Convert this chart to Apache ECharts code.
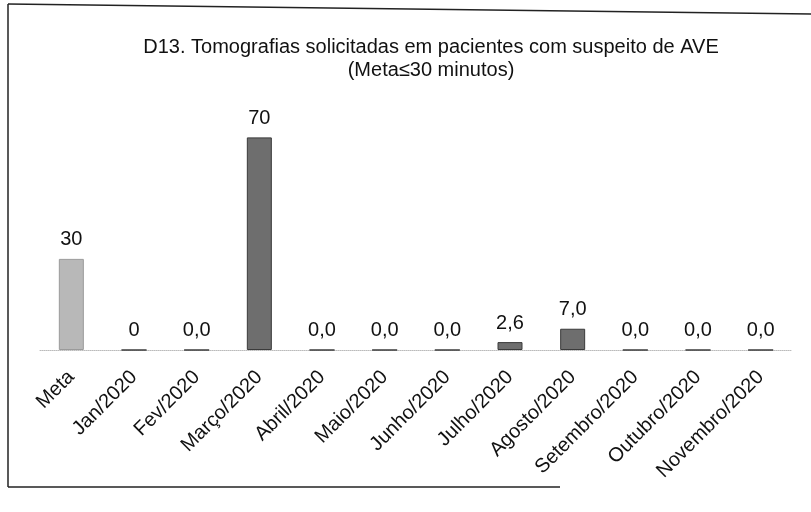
<!DOCTYPE html>
<html>
<head>
<meta charset="utf-8">
<script src="https://cdn.jsdelivr.net/npm/echarts@6/dist/echarts.min.js"></script>
<style>
  html, body { margin: 0; padding: 0; background: #fff; }
  #box { width: 811px; height: 512px; }
</style>
</head>
<body>
<div id="box"></div>
<script>
  const categories = ['Meta', 'Jan/2020', 'Fev/2020', 'Março/2020', 'Abril/2020', 'Maio/2020',
    'Junho/2020', 'Julho/2020', 'Agosto/2020', 'Setembro/2020', 'Outubro/2020', 'Novembro/2020'];
  const values = [30, 0, 0, 70, 0, 0, 0, 2.6, 7.0, 0, 0, 0];
  const valueLabels = ['30', '0', '0,0', '70', '0,0', '0,0', '0,0', '2,6', '7,0', '0,0', '0,0', '0,0'];

  const font = '"Liberation Sans", Arial, sans-serif';
  const chart = echarts.init(document.getElementById('box'));

  chart.setOption({
    backgroundColor: '#fff',
    animation: false,
    title: {
      text: 'D13. Tomografias solicitadas em pacientes com suspeito de AVE\n(Meta≤30 minutos)',
      left: 426,
      top: 31,
      textAlign: 'center',
      textStyle: {
        fontFamily: font,
        fontSize: 20,
        fontWeight: 'normal',
        color: '#111',
        lineHeight: 23,
        align: 'center',
      },
    },
    grid: { left: 40, right: 19, top: 107, bottom: 162 },
    xAxis: {
      type: 'category',
      data: categories,
      axisTick: { show: false },
      axisLine: { lineStyle: { color: '#bbb', type: 'dotted', width: 1 } },
      axisLabel: {
        rotate: 45,
        interval: 0,
        margin: 24,
        fontFamily: font,
        fontSize: 20,
        color: '#111',
      },
    },
    yAxis: {
      type: 'value',
      min: 0,
      max: 80,
      show: false,
      splitLine: { show: false },
    },
    series: [
      {
        type: 'bar',
        barWidth: 25,
        data: values.map((v, i) => ({
          value: v,
          itemStyle: i === 0
            ? { color: '#b8b8b8', borderColor: '#9a9a9a', borderWidth: 1 }
            : { color: '#6e6e6e', borderColor: '#3a3a3a', borderWidth: 1 },
        })),
        label: {
          show: true,
          position: 'top',
          distance: 9,
          fontFamily: font,
          fontSize: 20,
          color: '#111',
          formatter: (p) => valueLabels[p.dataIndex],
        },
      },
    ],
    graphic: [
      { type: 'line', shape: { x1: 8, y1: 4, x2: 8, y2: 487 }, style: { stroke: '#222', lineWidth: 1.5 } },
      { type: 'line', shape: { x1: 8, y1: 4, x2: 811, y2: 14 }, style: { stroke: '#222', lineWidth: 1.5 } },
      { type: 'line', shape: { x1: 8, y1: 487, x2: 560, y2: 487 }, style: { stroke: '#222', lineWidth: 1.5 } },
    ],
  });
</script>
</body>
</html>
